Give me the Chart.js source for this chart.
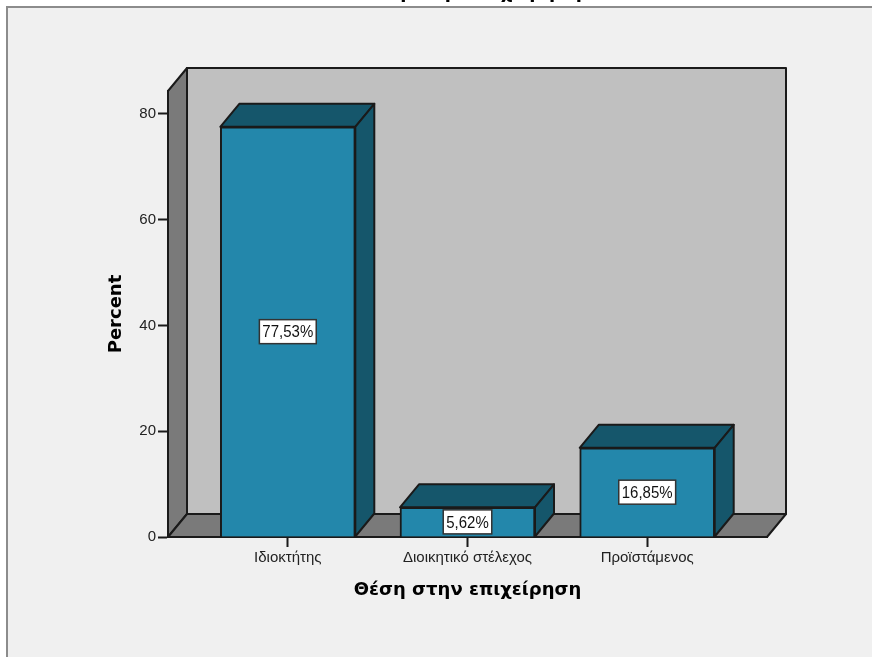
<!DOCTYPE html>
<html>
<head>
<meta charset="utf-8">
<style>
  html, body { margin: 0; padding: 0; background: #fff; overflow: hidden; }
  #wrap { width: 872px; height: 657px; position: relative; }
</style>
<script src="https://cdn.jsdelivr.net/npm/chart.js@4"></script>
</head>
<body>
<div id="wrap"><canvas id="chart"></canvas></div>
<script>
const categories = ['Ιδιοκτήτης', 'Διοικητικό στέλεχος', 'Προϊστάμενος'];
const percentValues = [77.53, 5.62, 16.85];
const yTickValues = [0, 20, 40, 60, 80];
const axisTitleX = 'Θέση στην επιχείρηση';
const axisTitleY = 'Percent';

const colors = {
  panel: '#f0f0f0',
  panelBorder: '#8c8c8c',
  backWall: '#c0c0c0',
  sideWall: '#7a7a7a',
  barFront: '#2387ab',
  barShade: '#15566b',
  line: '#1a1a1a'
};

// extrusion of the 3D box, in pixels
const depthX = 19;
const depthY = 23;

function poly(ctx, pts, fill) {
  ctx.beginPath();
  pts.forEach((p, i) => i ? ctx.lineTo(p[0], p[1]) : ctx.moveTo(p[0], p[1]));
  ctx.closePath();
  ctx.fillStyle = fill;
  ctx.fill();
  ctx.lineWidth = 2;
  ctx.strokeStyle = colors.line;
  ctx.lineJoin = 'round';
  ctx.stroke();
}

// window frame behind the chart, with the clipped heading at the top edge
const framePlugin = {
  id: 'frame',
  beforeDraw(chart) {
    const ctx = chart.ctx;
    ctx.save();
    ctx.fillStyle = '#fff';
    ctx.fillRect(0, 0, chart.width, chart.height);
    ctx.fillStyle = colors.panel;
    ctx.fillRect(7, 7, chart.width, chart.height);
    ctx.fillStyle = colors.panelBorder;
    ctx.fillRect(6, 6, chart.width, 2);
    ctx.fillRect(6, 6, 2, chart.height);
    ctx.fillStyle = '#000';
    ctx.font = 'bold 18px "DejaVu Sans"';
    ctx.textAlign = 'center';
    ctx.textBaseline = 'alphabetic';
    ctx.fillText(axisTitleX, 468, -2);
    ctx.restore();
  }
};

// walls and floor behind the bars, then the top and side faces of each bar
const boxPlugin = {
  id: 'box3d',
  beforeDatasetsDraw(chart) {
    const ctx = chart.ctx;
    const { left, right, top, bottom } = chart.chartArea;
    ctx.save();
    poly(ctx, [[left + depthX, top - depthY], [right + depthX, top - depthY], [right + depthX, bottom - depthY], [left + depthX, bottom - depthY]], colors.backWall);
    poly(ctx, [[left, top], [left + depthX, top - depthY], [left + depthX, bottom - depthY], [left, bottom]], colors.sideWall);
    poly(ctx, [[left, bottom], [left + depthX, bottom - depthY], [right + depthX, bottom - depthY], [right, bottom]], colors.sideWall);
    chart.getDatasetMeta(0).data.forEach(bar => {
      const x0 = bar.x - bar.width / 2;
      const x1 = bar.x + bar.width / 2;
      poly(ctx, [[x0, bar.y], [x0 + depthX, bar.y - depthY], [x1 + depthX, bar.y - depthY], [x1, bar.y]], colors.barShade);
      poly(ctx, [[x1, bar.y], [x1 + depthX, bar.y - depthY], [x1 + depthX, bar.base - depthY], [x1, bar.base]], colors.barShade);
    });
    ctx.restore();
  },
  afterDatasetsDraw(chart) {
    // value boxes centred on the front face
    const ctx = chart.ctx;
    ctx.save();
    ctx.font = '15px "Liberation Sans"';
    ctx.textAlign = 'center';
    ctx.textBaseline = 'middle';
    chart.getDatasetMeta(0).data.forEach((bar, i) => {
      const text = percentValues[i].toFixed(2).replace('.', ',') + '%';
      const w = ctx.measureText(text).width + 6;
      const h = 24;
      const cy = (bar.y + bar.base) / 2;
      ctx.fillStyle = '#fff';
      ctx.fillRect(bar.x - w / 2, cy - h / 2, w, h);
      ctx.strokeStyle = '#333';
      ctx.lineWidth = 1.5;
      ctx.strokeRect(bar.x - w / 2, cy - h / 2, w, h);
      ctx.fillStyle = '#111';
      // the digits are a little taller than the font's own proportions
      ctx.save();
      ctx.translate(bar.x, cy + 1);
      ctx.scale(1, 1.15);
      ctx.fillText(text, 0, 0);
      ctx.restore();
    });
    ctx.restore();
  }
};

new Chart(document.getElementById('chart'), {
  type: 'bar',
  data: {
    labels: categories,
    datasets: [{
      data: percentValues,
      backgroundColor: colors.barFront,
      borderColor: colors.line,
      borderWidth: 2,
      barThickness: 135
    }]
  },
  options: {
    responsive: true,
    maintainAspectRatio: false,
    animation: false,
    layout: { padding: { top: 91, right: 105, bottom: 0, left: 0 } },
    plugins: { legend: { display: false }, tooltip: { enabled: false } },
    scales: {
      x: {
        afterBuildTicks(scale) {
          // categories sit 180px apart with wider margins at both ends of the floor
          scale._startValue = -2 / 3;
          scale._valueRange = 10 / 3;
        },
        afterFit(scale) { scale.height = 120; },
        grid: { drawOnChartArea: false, offset: false, tickLength: 10, tickColor: colors.line, tickWidth: 2 },
        border: { color: colors.line, width: 2 },
        ticks: { color: '#222', font: { family: '"Liberation Sans"', size: 15 }, padding: 2, maxRotation: 0, autoSkip: false },
        title: { display: true, text: axisTitleX, color: '#000', font: { family: '"DejaVu Sans"', size: 18, weight: 'bold' }, padding: { top: 0, bottom: 56 } }
      },
      y: {
        min: 0,
        max: 84.3,
        afterBuildTicks(scale) { scale.ticks = yTickValues.map(value => ({ value })); },
        afterFit(scale) { scale.width = 168; },
        grid: { drawOnChartArea: false, tickLength: 10, tickColor: colors.line, tickWidth: 2 },
        border: { color: colors.line, width: 2 },
        ticks: { color: '#222', font: { family: '"Liberation Sans"', size: 15 }, padding: 2 },
        title: { display: true, text: axisTitleY, color: '#000', font: { family: '"DejaVu Sans"', size: 18, weight: 'bold' }, padding: { top: 106, bottom: 0 } }
      }
    }
  },
  plugins: [framePlugin, boxPlugin]
});
</script>
</body>
</html>
